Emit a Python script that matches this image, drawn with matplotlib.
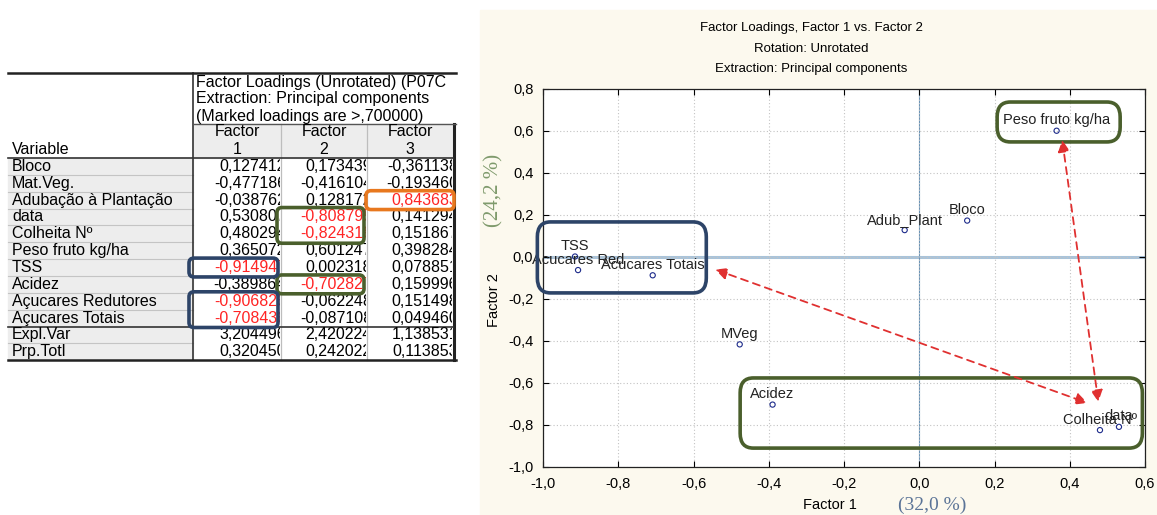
import matplotlib
matplotlib.use("Agg")
import matplotlib.pyplot as plt
from matplotlib.patches import FancyBboxPatch, Rectangle
from matplotlib.ticker import FixedLocator, FuncFormatter
from matplotlib.transforms import Bbox, TransformedBbox

# factor loadings (unrotated)
variables = ["Bloco", "Mat.Veg.", "Adubação à Plantação", "data", "Colheita Nº",
             "Peso fruto kg/ha", "TSS", "Acidez", "Açucares Redutores", "Açucares Totais"]
short_names = ["Bloco", "MVeg", "Adub_Plant", "data", "Colheita Nº",
               "Peso fruto kg/ha", "TSS", "Acidez", "Acucares Red", "Acucares Totais"]
factor1 = [0.127412, -0.477186, -0.038762, 0.530807, 0.480294,
           0.365072, -0.914947, -0.389864, -0.906826, -0.708436]
factor2 = [0.173439, -0.416104, 0.128172, -0.808795, -0.824318,
           0.601247, 0.002318, -0.702827, -0.062248, -0.087108]
factor3 = [-0.361138, -0.193460, 0.843683, 0.141294, 0.151867,
           0.398284, 0.078851, 0.159996, 0.151498, 0.049460]
expl_var = [3.204496, 2.420224, 1.138531]
prp_totl = [0.320450, 0.242022, 0.113853]
threshold = 0.7

x_ticks = [-1.0, -0.8, -0.6, -0.4, -0.2, 0.0, 0.2, 0.4, 0.6]
y_ticks = [-1.0, -0.8, -0.6, -0.4, -0.2, 0.0, 0.2, 0.4, 0.6, 0.8]

plt.rcParams["font.family"] = ["Liberation Sans", "DejaVu Sans"]
serif = ["Liberation Serif", "DejaVu Serif"]

W, H = 1157, 515
navy = "#2d4468"
green = "#4a5f2c"
orange = "#e8781e"
tfs = 11.5  # table font size


def comma(v, nd=6):
    return f"{v:.{nd}f}".replace(".", ",")


fig = plt.figure(figsize=(W / 100, H / 100), dpi=100)

# background axes in pixel coords, used for the table and the cream panel
tab = fig.add_axes([0, 0, 1, 1])
tab.set_xlim(0, W)
tab.set_ylim(H, 0)
tab.axis("off")
tab.add_patch(Rectangle((480, 10), W - 480, H - 10, color="#fcf9ee", zorder=0))


def clipped_text(x, y, s, x0, y0, x1, y1, **kw):
    # text cut off at a cell edge, like the spreadsheet view
    t = tab.text(x, y, s, **kw)
    box = Bbox.from_extents(x0 / W, 1 - y1 / H, x1 / W, 1 - y0 / H)
    t.set_clip_path(None)
    t.set_clip_box(TransformedBbox(box, fig.transFigure))
    t.set_clip_on(True)
    return t


# ---- table ----
cols = [8, 193, 281, 367, 453]
row0 = 158
rh = 16.85
n = len(variables)


def row_top(i):
    return row0 + i * rh


all_rows = [(v, [a, b, c]) for v, a, b, c in zip(variables, factor1, factor2, factor3)]
all_rows += [("Expl.Var", expl_var), ("Prp.Totl", prp_totl)]
bottom = row_top(len(all_rows))

# gray header cells and label column
tab.add_patch(Rectangle((cols[1], 124), cols[4] - cols[1], row0 - 124, color="#ededed", zorder=1))
tab.add_patch(Rectangle((cols[0], row0), cols[1] - cols[0], bottom - row0, color="#ededed", zorder=1))

for i, (name, vals) in enumerate(all_rows):
    y = row_top(i) + rh / 2
    tab.text(cols[0] + 4, y, name, fontsize=tfs, va="center", ha="left", zorder=3)
    if i > 0 and i != n:
        tab.plot([cols[0], cols[1]], [row_top(i)] * 2, color="#c4c4c4", lw=0.8, zorder=2)
    for j, v in enumerate(vals):
        red = i < n and abs(v) > threshold
        clipped_text(cols[j + 2] + 5, y, comma(v),
                     cols[j + 1] + 1, row_top(i), cols[j + 2] - 1, row_top(i + 1),
                     fontsize=tfs, va="center", ha="right",
                     color="#ff2424" if red else "black", zorder=3)

# header texts
hdr = ["Factor Loadings (Unrotated) (P07C",
       "Extraction: Principal components",
       "(Marked loadings are >" + comma(threshold).lstrip("0") + ")"]
for k, s in enumerate(hdr):
    clipped_text(cols[1] + 3, 82 + 17 * k, s, cols[1], 70, 455, 124,
                 fontsize=tfs, va="center", ha="left", zorder=3)
for j in range(3):
    cx = (cols[j + 1] + cols[j + 2]) / 2
    tab.text(cx, 132, "Factor", fontsize=tfs, ha="center", va="center", zorder=3)
    tab.text(cx, 149, str(j + 1), fontsize=tfs, ha="center", va="center", zorder=3)
tab.text(cols[0] + 4, 149, "Variable", fontsize=tfs, ha="left", va="center", zorder=3)

# grid lines of the table
for x in cols[2:4]:
    tab.plot([x, x], [124, bottom], color="#bdbdbd", lw=0.9, zorder=2)
tab.plot([cols[1], cols[1]], [73, bottom], color="#333333", lw=1.2, zorder=2)
tab.plot([cols[4] + 1, cols[4] + 1], [124, bottom], color="#222222", lw=2.2, zorder=2)
tab.plot([cols[0], 456], [73, 73], color="#222222", lw=1.8, zorder=2)
tab.plot([cols[1], 456], [124, 124], color="#555555", lw=1.0, zorder=2)
tab.plot([cols[0], cols[4]], [row0, row0], color="#333333", lw=1.2, zorder=2)
tab.plot([cols[0], cols[4]], [row_top(n), row_top(n)], color="#333333", lw=1.2, zorder=2)
tab.plot([cols[0], 456], [bottom, bottom], color="#222222", lw=1.8, zorder=2)


def table_box(col, r1, r2, color):
    x0 = cols[col] - 4 + (3 if col == 3 else 0)
    x1 = cols[col + 1] - 3 + (4 if col == 3 else 0)
    y0, y1 = row_top(r1) - 1, row_top(r2 + 1) + 1
    tab.add_patch(FancyBboxPatch((x0, y0), x1 - x0, y1 - y0,
                                 boxstyle="round,pad=0,rounding_size=5",
                                 fc="none", ec=color, lw=2.6, zorder=5))


# marked loadings boxed as in the original
table_box(3, 2, 2, orange)
table_box(2, 3, 4, green)
table_box(2, 7, 7, green)
table_box(1, 6, 6, navy)
table_box(1, 8, 9, navy)

# ---- factor plot ----
ax = fig.add_axes([543 / W, 1 - 467 / H, (1145 - 543) / W, (467 - 89) / H])
ax.set_facecolor("white")
ax.set_xlim(-1.0, 0.6)
ax.set_ylim(-1.0, 0.8)
ax.xaxis.set_major_locator(FixedLocator(x_ticks))
ax.yaxis.set_major_locator(FixedLocator(y_ticks))
fmt = FuncFormatter(lambda v, p: comma(v, 1))
ax.xaxis.set_major_formatter(fmt)
ax.yaxis.set_major_formatter(fmt)
ax.tick_params(direction="in", length=4, width=0.8, top=True, right=True,
               labelsize=10.5, pad=7)
for s in ax.spines.values():
    s.set_linewidth(0.9)
    s.set_color("#222222")
ax.grid(True, linestyle=(0, (1, 2)), color="#c3c3c3", lw=0.8)
ax.axhline(0, color="#a9c3da", lw=2.2, zorder=1.5)
ax.axvline(0, color="#6a94b8", lw=0.8, zorder=1.5)

ax.scatter(factor1, factor2, s=14, facecolors="none", edgecolors="#1c2a8a", lw=0.8, zorder=3)
for name, x, y in zip(short_names, factor1, factor2):
    ax.annotate(name, (x, y), xytext=(0, 2.5), textcoords="offset points",
                ha="center", va="bottom", fontsize=10.5,
                color="#222222", zorder=4, annotation_clip=False).set_clip_on(True)

# group boxes drawn over the plot
for (x0, y0, x1, y1), c in [((-1.015, -0.171, -0.566, 0.167), navy),
                            ((0.207, 0.548, 0.534, 0.738), green),
                            ((-0.476, -0.910, 0.593, -0.576), green)]:
    ax.add_patch(FancyBboxPatch((x0, y0), x1 - x0, y1 - y0,
                                boxstyle="round,pad=0,rounding_size=0.035",
                                mutation_aspect=1.8 / 1.6 * 376 / 210,
                                fc="none", ec=c, lw=2.6, zorder=5, clip_on=False))

# relation arrows
for (xa, ya), (xb, yb) in [((0.380, 0.557), (0.476, -0.690)),
                           ((-0.542, -0.060), (0.447, -0.695))]:
    ax.annotate("", xy=(xb, yb), xytext=(xa, ya),
                arrowprops=dict(arrowstyle="<|-|>,head_length=0.7,head_width=0.35",
                                color="#e03030", lw=1.3, linestyle=(0, (4, 3)),
                                shrinkA=0, shrinkB=0), zorder=6)

# titles and axis labels
titles = ["Factor Loadings, Factor 1 vs. Factor 2", "Rotation: Unrotated",
          "Extraction: Principal components"]
for k, s in enumerate(titles):
    tab.text(811, 28 + 20.5 * k, s, fontsize=9.5, ha="center", va="center", zorder=3)
tab.text(830, 505, "Factor 1", fontsize=10.5, ha="center", va="center", zorder=3)
tab.text(932, 505, f"({prp_totl[0] * 100:.1f} %)".replace(".", ","), fontsize=14,
         family=serif, color="#5b7497", ha="center", va="center", zorder=3)
tab.text(494, 300, "Factor 2", fontsize=10.5, rotation=90, ha="center", va="center", zorder=3)
tab.text(494, 190, f"({prp_totl[1] * 100:.1f} %)".replace(".", ","), fontsize=15, rotation=90,
         family=serif, color="#7f9a6c", ha="center", va="center", zorder=3)

fig.savefig("out.png", dpi=100)
